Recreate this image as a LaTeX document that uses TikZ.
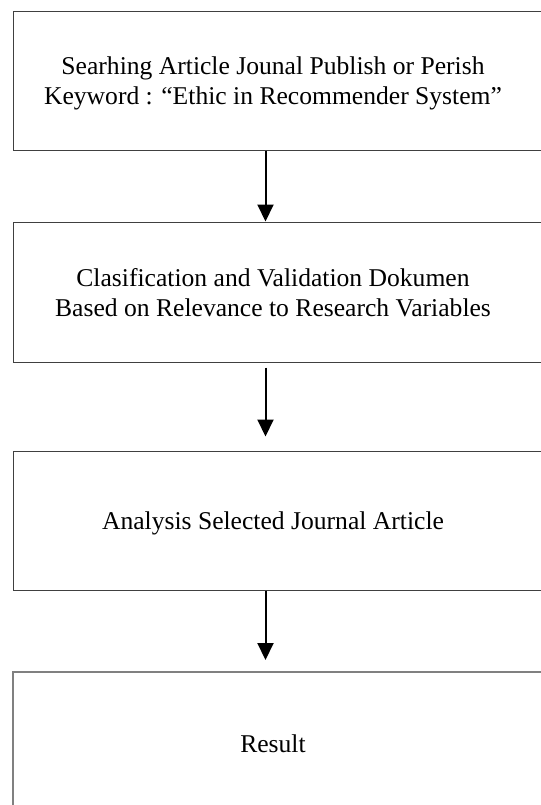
\documentclass[tikz,border=0pt]{standalone}
\usepackage{fontspec}
\setmainfont{Liberation Serif}
\usetikzlibrary{arrows.meta,calc}
\tikzset{
  stepbox/.style={draw=black!75, line width=0.5pt, minimum width=273.5pt, minimum height=69.5pt, inner sep=0pt},
  steptext/.style={align=center, inner sep=0pt, font=\fontsize{12.8}{15}\selectfont},
  flow/.style={line width=1pt, -{Triangle[width=8pt,length=8.5pt]}}
}

\begin{document}
\begin{tikzpicture}[x=0.5pt, y=-0.5pt]
  \useasboundingbox (0,0) rectangle (541,805);
  \clip (0,0) rectangle (541,805);
  \coordinate (ax) at (265.5,0);

  \node [stepbox] (search) at (286.5,80.5) {};
  \node [steptext] (searchtxt) at (273,83) {Searhing Article Jounal Publish or Perish\\Keyword : “Ethic in Recommender System”};

  \node [stepbox, minimum height=70pt] (classify) at (286.5,292) {};
  \node [steptext] (classifytxt) at (273,293) {Clasification and Validation Dokumen\\Based on Relevance to Research Variables};

  \node [stepbox] (analysis) at (286.5,520.5) {};
  \node [steptext] (analysistxt) at (273,523) {Analysis Selected Journal Article};

  \node [stepbox, draw=black!50, line width=1pt, minimum height=72pt] (result) at (286,744) {};
  \node [steptext] (resulttxt) at (273,744) {Result};

  \draw [flow] (search.south -| ax) -- (classify.north -| ax);
  \draw [flow, shorten <=2.5pt, shorten >=7pt] (classify.south -| ax) -- (analysis.north -| ax);
  \draw [flow, shorten >=5.5pt] (analysis.south -| ax) -- (result.north -| ax);
\end{tikzpicture}
\end{document}
